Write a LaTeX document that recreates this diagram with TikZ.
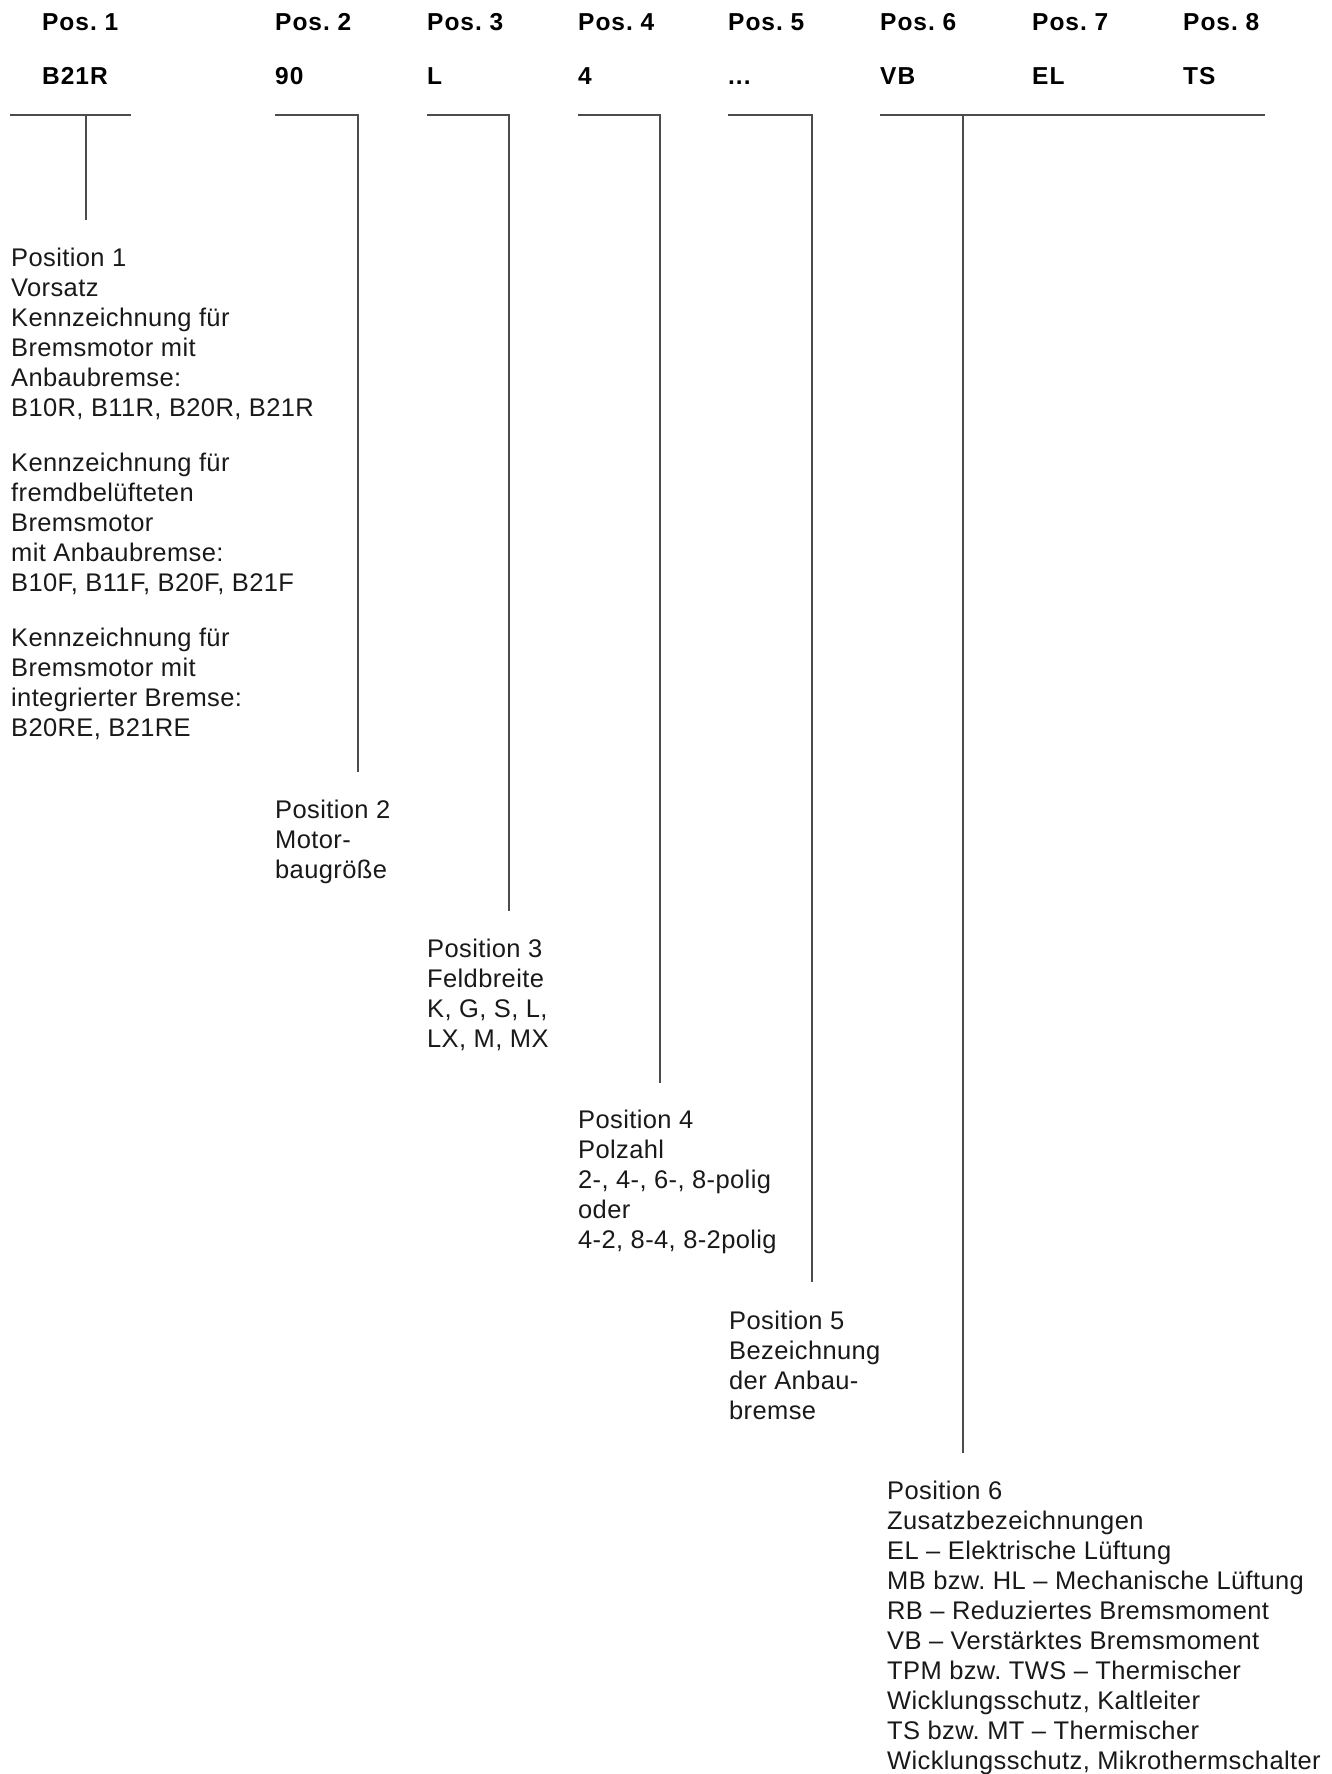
\documentclass[tikz,border=0pt]{standalone}
\usepackage{fontspec}
\setmainfont{Liberation Sans}[LetterSpace=1.5]
\newfontfamily\headfont{Liberation Sans}[LetterSpace=4]
\frenchspacing
\begin{document}
\begin{tikzpicture}[x=1pt,y=-1pt,
  hd/.style={anchor=base west, inner sep=0pt, font=\headfont\bfseries\fontsize{24.5}{28}\selectfont, text=black},
  body/.style={anchor=north west, inner sep=0pt, align=left, font=\fontsize{25.5}{30}\selectfont, text=black!90},
  rule/.style={draw=black!70, line width=1.5pt}]
\useasboundingbox (0,0) rectangle (1331,1774);

% header row 1
\node[hd] (h1) at (42,31) {Pos. 1};
\node[hd] (h2) at (275,31) {Pos. 2};
\node[hd] (h3) at (427,31) {Pos. 3};
\node[hd] (h4) at (578,31) {Pos. 4};
\node[hd] (h5) at (728,31) {Pos. 5};
\node[hd] (h6) at (880,31) {Pos. 6};
\node[hd] (h7) at (1032,31) {Pos. 7};
\node[hd] (h8) at (1183,31) {Pos. 8};

% header row 2
\node[hd] (c1) at (42,85) {B21R};
\node[hd] (c2) at (275,85) {90};
\node[hd] (c3) at (427,85) {L};
\node[hd] (c4) at (578,85) {4};
\node[hd] (c5) at (728,85) {...};
\node[hd] (c6) at (880,85) {VB};
\node[hd] (c7) at (1032,85) {EL};
\node[hd] (c8) at (1183,85) {TS};

% text blocks
\node[body] (t1) at (11,248) {Position 1\\Vorsatz\\Kennzeichnung für\\Bremsmotor mit\\Anbaubremse:\\B10R, B11R, B20R, B21R\\[25pt]Kennzeichnung für\\fremdbelüfteten\\Bremsmotor\\mit Anbaubremse:\\B10F, B11F, B20F, B21F\\[25pt]Kennzeichnung für\\Bremsmotor mit\\integrierter Bremse:\\B20RE, B21RE};
\node[body] (t2) at (275,800) {Position 2\\Motor-\\baugröße};
\node[body] (t3) at (427,939) {Position 3\\Feldbreite\\K, G, S, L,\\LX, M, MX};
\node[body] (t4) at (578,1110) {Position 4\\Polzahl\\2-, 4-, 6-, 8-polig\\oder\\4-2, 8-4, 8-2polig};
\node[body] (t5) at (729,1311) {Position 5\\Bezeichnung\\der Anbau-\\bremse};
\node[body] (t6) at (887,1481) {Position 6\\Zusatzbezeichnungen\\EL – Elektrische Lüftung\\MB bzw. HL – Mechanische Lüftung\\RB – Reduziertes Bremsmoment\\VB – Verstärktes Bremsmoment\\TPM bzw. TWS – Thermischer\\Wicklungsschutz, Kaltleiter\\TS bzw. MT – Thermischer\\Wicklungsschutz, Mikrothermschalter};

% bracket coordinates
\coordinate (a1) at (10,115);  \coordinate (b1) at (131,115);
\coordinate (v1) at (86,115);  \coordinate (e1) at (86,220);
\coordinate (a2) at (275,115); \coordinate (b2) at (358,115); \coordinate (e2) at (358,772);
\coordinate (a3) at (427,115); \coordinate (b3) at (509,115); \coordinate (e3) at (509,911);
\coordinate (a4) at (578,115); \coordinate (b4) at (660,115); \coordinate (e4) at (660,1083);
\coordinate (a5) at (728,115); \coordinate (b5) at (812,115); \coordinate (e5) at (812,1282);
\coordinate (a6) at (880,115); \coordinate (b6) at (1265,115);
\coordinate (v6) at (963,115); \coordinate (e6) at (963,1453);

\draw[rule] (a1) -- (b1);
\draw[rule] (v1) -- (e1);
\draw[rule] (a2) -- (b2) -- (e2);
\draw[rule] (a3) -- (b3) -- (e3);
\draw[rule] (a4) -- (b4) -- (e4);
\draw[rule] (a5) -- (b5) -- (e5);
\draw[rule] (a6) -- (b6);
\draw[rule] (v6) -- (e6);
\end{tikzpicture}
\end{document}
